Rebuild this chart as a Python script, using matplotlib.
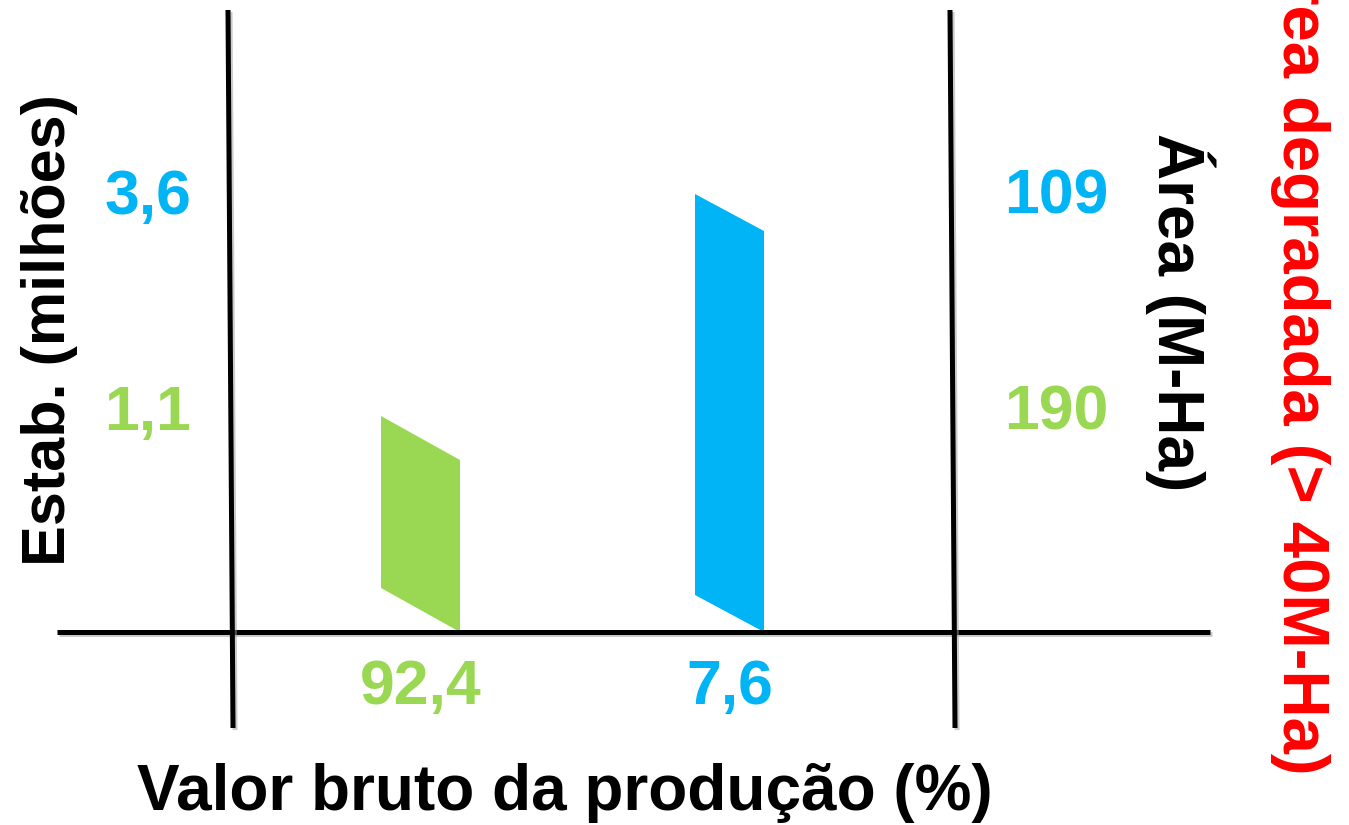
import matplotlib
matplotlib.use("Agg")
import matplotlib.pyplot as plt
import matplotlib.patheffects as pe

plt.rcParams['font.family'] = ['Liberation Sans', 'DejaVu Sans']
plt.rcParams['font.weight'] = 'bold'

# schematic values
groups = ["pequenos", "grandes"]
colors = ["#9ad853", "#00b4f5"]
bar_x = [381, 695]          # left edge of each slanted bar
bar_w = [79, 69]
bar_h = [172, 401]          # vertical length of each bar
bar_skew = [44, 37]         # drop of the top/bottom edge across the bar
estab = ["1,1", "3,6"]      # milhões de estabelecimentos
area = ["190", "109"]       # M-Ha
vbp = ["92,4", "7,6"]       # % do valor bruto da produção
label_y = [412, 628]        # height of the left/right value labels

base = 193

fig = plt.figure(figsize=(13.49, 8.25), dpi=100)
ax = fig.add_axes([0, 0, 1, 1])
ax.set_xlim(0, 1349)
ax.set_ylim(0, 825)
ax.axis('off')

shadow = [pe.SimpleLineShadow(offset=(1.5, -1.5), shadow_color='0.6', alpha=0.5), pe.Normal()]

# axes lines
ax.plot([57, 1210], [base, base], color='black', lw=3.6, solid_capstyle='butt', path_effects=shadow)
ax.plot([228, 233], [815, 97], color='black', lw=3.6, solid_capstyle='butt', path_effects=shadow)
ax.plot([950, 955], [815, 97], color='black', lw=3.6, solid_capstyle='butt', path_effects=shadow)

for i in range(len(groups)):
    x0, w, h, s = bar_x[i], bar_w[i], bar_h[i], bar_skew[i]
    xs = [x0, x0 + w, x0 + w, x0]
    ys = [base + s, base, base + h, base + s + h]
    ax.fill(xs, ys, color=colors[i], lw=0)
    ax.text(x0 + w / 2, 137, vbp[i], color=colors[i], fontsize=45, ha='center', va='center')
    ax.text(148, label_y[i], estab[i], color=colors[i], fontsize=45, ha='center', va='center')
    ax.text(1056, label_y[i], area[i], color=colors[i], fontsize=45, ha='center', va='center')

ax.text(565, 32, "Valor bruto da produção (%)", fontsize=46, ha='center', va='center')
ax.text(50, 825 - 330, "Estab. (milhões)", fontsize=44, ha='center', va='center', rotation=90)
ax.text(1180, 825 - 312, "Área (M-Ha)", fontsize=46, ha='center', va='center', rotation=-90)
ax.text(1305, 825 - 353, "Área degradada (> 40M-Ha)", fontsize=47, ha='center', va='center',
        rotation=-90, color='#ff0000')

fig.savefig("out.png", dpi=100)
